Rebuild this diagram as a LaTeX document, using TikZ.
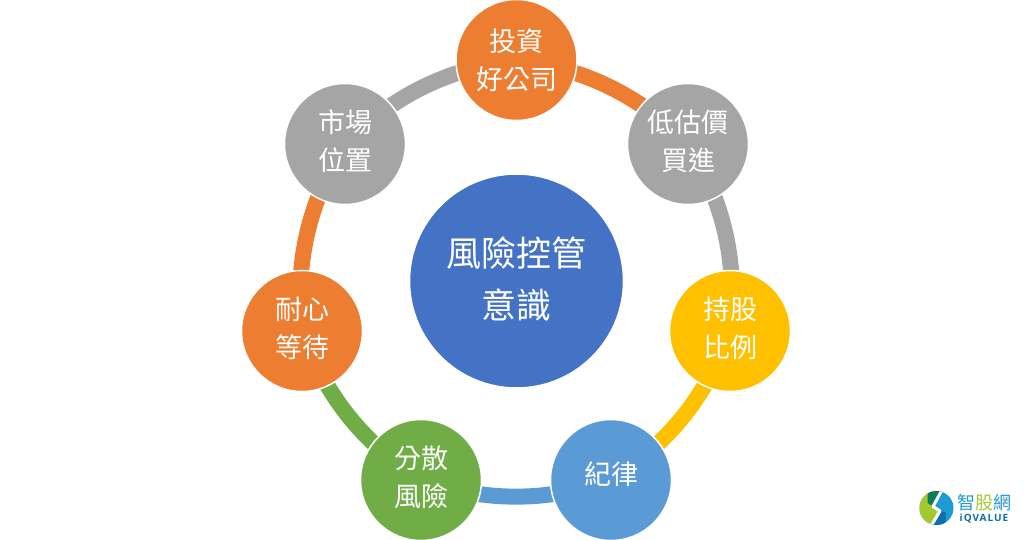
\documentclass[tikz,border=0pt]{standalone}
\usetikzlibrary{backgrounds}
\usepackage{fontspec}
\setmainfont{Noto Sans CJK TC}
\newfontfamily\latinbold{Open Sans}[LetterSpace=10]
\definecolor{cOrange}{HTML}{ED7D31}
\definecolor{cGray}{HTML}{A5A5A5}
\definecolor{cYellow}{HTML}{FFC000}
\definecolor{cBlue}{HTML}{5B9BD5}
\definecolor{cGreen}{HTML}{70AD47}
\definecolor{cCentre}{HTML}{4472C4}
\definecolor{logoBlue}{HTML}{1E9AD6}
\definecolor{logoDeep}{HTML}{0F6FA8}
\definecolor{logoLime}{HTML}{A4C92E}
\definecolor{logoDark}{HTML}{0E7C57}
\newcommand\liftlines[2][1pt]{\raisebox{0pt}[\height][\dimexpr\depth+#1\relax]{\begin{tabular}{@{}c@{}}#2\end{tabular}}}
\tikzset{
  x=1pt,y=-1pt,
  ringnode/.style={circle,draw=white,line width=1.5pt,minimum size=121pt,inner sep=0pt,
    text=white,font=\fontsize{27}{38}\selectfont},
  centrenode/.style={ringnode,minimum size=214pt,fill=cCentre,font=\fontsize{35}{52}\selectfont},
  ringlink/.style={line width=16pt,bend left=19,looseness=0.92},
}
\begin{document}
\begin{tikzpicture}
\useasboundingbox (0,0) rectangle (1032,540);
\node[centrenode] (core) at (516.5,281) {\liftlines[-3pt]{風險控管\\意識}};
\node[ringnode,fill=cOrange] (invest) at (516.5,60) {\liftlines[-5pt]{投資\\好公司}};
\node[ringnode,fill=cGray] (cheap) at (688,144) {\liftlines{低估價\\買進}};
\node[ringnode,fill=cYellow] (share) at (730,331) {\liftlines{持股\\比例}};
\node[ringnode,fill=cBlue] (disc) at (611,480) {\liftlines[6pt]{紀律}};
\node[ringnode,fill=cGreen] (spread) at (421,480) {\liftlines{分散\\風險}};
\node[ringnode,fill=cOrange] (wait) at (302,331) {\liftlines{耐心\\等待}};
\node[ringnode,fill=cGray] (market) at (345,144) {\liftlines{市場\\位置}};
\begin{pgfonlayer}{background}
\fill[white] (0,0) rectangle (1032,540);
\draw[ringlink,cOrange] (invest.center) to (cheap.center);
\draw[ringlink,cGray] (cheap.center) to (share.center);
\draw[ringlink,cYellow] (share.center) to (disc.center);
\draw[ringlink,cBlue] (disc.center) to (spread.center);
\draw[ringlink,cGreen] (spread.center) to (wait.center);
\draw[ringlink,cOrange] (wait.center) to (market.center);
\draw[ringlink,cGray] (market.center) to (invest.center);
\end{pgfonlayer}
% logo
\begin{scope}[shift={(936.5,508)},x=1pt,y=1pt]
\clip (0,0) circle[radius=17];
\fill[logoBlue] (-18,-18) rectangle (18,18);
\fill[logoLime] (6,18) -- (-3,1.5) -- (3,-3) -- (-5,-18) -- (-18,-18) -- (-18,18) -- cycle;
\fill[logoDark] (-9,18) -- (6,18) -- (-3,1.5) -- (-9,5) -- cycle;
\fill[logoDeep] (-5,-18) -- (9,-18) -- (9,-4) -- (3,-3) -- cycle;
\draw[white,line width=3pt,line join=round] (6,19) -- (-3.5,1.5) -- (3.5,-3) -- (-6,-19);
\end{scope}
\node[inner sep=0pt,font=\fontsize{18}{18}\selectfont] (logotext) at (984,503) {\textcolor{logoBlue}{智}\textcolor{logoLime}{股}\textcolor{logoBlue}{網}};
\node[inner sep=0pt,text=logoDeep,font=\fontsize{10}{10}\latinbold\bfseries] (logolatin) at (984,519) {iQVALUE};
\end{tikzpicture}
\end{document}
